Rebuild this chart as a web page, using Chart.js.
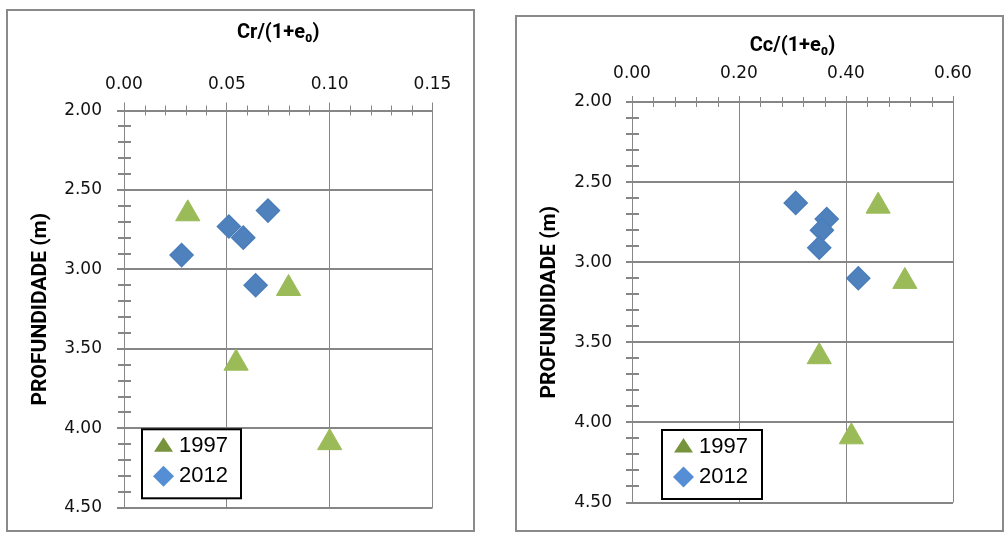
<!DOCTYPE html>
<html>
<head>
<meta charset="utf-8">
<script src="https://cdn.jsdelivr.net/npm/chart.js@4.4.1/dist/chart.umd.min.js"></script>
<style>
  html, body { margin: 0; padding: 0; background: #fff; }
  body { width: 1005px; height: 533px; position: relative; overflow: hidden; }
  .frame { position: absolute; box-sizing: border-box; border: 2px solid #8a8a8a; }
  canvas { position: absolute; top: 0; }
</style>
</head>
<body>
<div class="frame" style="left:6px;top:9px;width:469px;height:523px;"></div>
<div class="frame" style="left:515px;top:15px;width:489px;height:517px;"></div>
<canvas id="crChart" width="490" height="533" style="left:0px"></canvas>
<canvas id="ccChart" width="505" height="533" style="left:500px"></canvas>
<script>
// Get the data for the charts
var seriesNames = ['1997', '2012'];
var depth1997 = [2.65, 3.12, 3.59, 4.09];
var cr1997 = [0.031, 0.080, 0.0545, 0.100];
var cc1997 = [0.46, 0.51, 0.35, 0.41];
var depth2012 = [2.63, 2.73, 2.80, 2.91, 3.10];
var cr2012 = [0.070, 0.051, 0.058, 0.028, 0.064];
var cc2012 = [0.306, 0.364, 0.355, 0.350, 0.423];
var depthTicks = [2.00, 2.50, 3.00, 3.50, 4.00, 4.50];
var crTicks = [0.00, 0.05, 0.10, 0.15];
var ccTicks = [0.00, 0.20, 0.40, 0.60];

var gridColor = '#868686';
var tickFont = { family: "'DejaVu Sans'", size: 17 };
var titleFont = { family: "Roboto, 'DejaVu Sans'", size: 20, weight: 'bold' };

function points(xs, ys) {
    return xs.map(function (v, i) { return { x: v, y: ys[i] }; });
}

// minor ticks and the boxed legend inside the plot
var decor = {
    id: 'decor',
    afterDraw: function (chart, args, o) {
        var ctx = chart.ctx, a = chart.chartArea;
        var xs = chart.scales.x, ys = chart.scales.y;
        ctx.save();
        ctx.strokeStyle = gridColor;

        ctx.lineWidth = 1;
        var nx = Math.round((xs.max - xs.min) / o.xMinor);
        for (var i = 1; i < nx; i++) {
            if (i % o.xPer === 0) continue;
            var px = Math.round(xs.getPixelForValue(xs.min + i * o.xMinor)) + 0.5;
            ctx.beginPath();
            ctx.moveTo(px, a.top - 5);
            ctx.lineTo(px, a.top + 5);
            ctx.stroke();
        }
        ctx.lineWidth = 2;
        var ny = Math.round((ys.max - ys.min) / 0.1);
        for (var j = 1; j < ny; j++) {
            if (j % 5 === 0) continue;
            var py = Math.round(ys.getPixelForValue(ys.min + j * 0.1));
            ctx.beginPath();
            ctx.moveTo(a.left - 6, py);
            ctx.lineTo(a.left + 7, py);
            ctx.stroke();
        }

        // legend box
        var bx = a.left + o.legendDx, bw = o.legendW, bh = 69;
        var by = a.bottom - o.legendDy - bh;
        ctx.fillStyle = '#fff';
        ctx.fillRect(bx, by, bw, bh);
        ctx.strokeStyle = '#000';
        ctx.lineWidth = 2;
        ctx.strokeRect(bx, by, bw, bh);

        var mx = bx + 21.5, tx = bx + 37;
        var r1 = by + 15.5, r2 = by + 47;
        // triangle
        ctx.fillStyle = '#77933C';
        ctx.beginPath();
        ctx.moveTo(mx, r1 - 7.5);
        ctx.lineTo(mx + 9.5, r1 + 7);
        ctx.lineTo(mx - 9.5, r1 + 7);
        ctx.closePath();
        ctx.fill();
        // diamond
        ctx.fillStyle = '#558ED5';
        ctx.beginPath();
        ctx.moveTo(mx, r2 - 10.5);
        ctx.lineTo(mx + 10.5, r2);
        ctx.lineTo(mx, r2 + 10.5);
        ctx.lineTo(mx - 10.5, r2);
        ctx.closePath();
        ctx.fill();

        ctx.fillStyle = '#000';
        ctx.font = "22px 'Liberation Sans'";
        ctx.textBaseline = 'middle';
        ctx.textAlign = 'left';
        ctx.fillText(chart.data.datasets[0].label, tx, r1 + 1);
        ctx.fillText(chart.data.datasets[1].label, tx, r2);
        ctx.restore();
    }
};

function makeChart(id, xData1997, xData2012, xTicks, xTitle, cfg) {
    var ctx = document.getElementById(id).getContext('2d');
    return new Chart(ctx, {
        type: 'scatter',
        data: {
            datasets: [{
                label: seriesNames[0],
                data: points(xData1997, depth1997),
                pointStyle: 'triangle',
                pointRadius: 14,
                pointBackgroundColor: '#9BBB59',
                pointBorderColor: '#9BBB59',
                pointBorderWidth: 1
            }, {
                label: seriesNames[1],
                data: points(xData2012, depth2012),
                pointStyle: 'rectRot',
                pointRadius: 11.5,
                pointBackgroundColor: '#4F81BD',
                pointBorderColor: '#4A7EBB',
                pointBorderWidth: 1.5
            }]
        },
        plugins: [decor],
        options: {
            responsive: false,
            animation: false,
            layout: { padding: { left: 0, top: 0, right: cfg.padRight, bottom: cfg.padBottom } },
            plugins: {
                legend: { display: false },
                tooltip: { enabled: false },
                decor: {
                    xMinor: cfg.xMinor, xPer: 5,
                    legendDx: cfg.legendDx, legendDy: cfg.legendDy, legendW: cfg.legendW
                }
            },
            scales: {
                x: {
                    type: 'linear',
                    position: 'top',
                    min: xTicks[0],
                    max: xTicks[xTicks.length - 1],
                    afterBuildTicks: function (s) { s.ticks = xTicks.map(function (v) { return { value: v }; }); },
                    afterFit: function (s) { s.height = cfg.xHeight; },
                    ticks: {
                        font: tickFont, color: '#111', padding: cfg.xTickPad,
                        maxRotation: 0, autoSkip: false,
                        callback: function (v) { return Number(v).toFixed(2); }
                    },
                    grid: { color: gridColor, lineWidth: 1, tickLength: cfg.xTickLen },
                    border: { color: gridColor, width: 2 },
                    title: {
                        display: true, text: xTitle, font: titleFont, color: '#000',
                        padding: { top: cfg.xTitlePad, bottom: 0 }
                    }
                },
                y: {
                    type: 'linear',
                    reverse: true,
                    min: depthTicks[0],
                    max: depthTicks[depthTicks.length - 1],
                    afterBuildTicks: function (s) { s.ticks = depthTicks.map(function (v) { return { value: v }; }); },
                    afterFit: function (s) { s.width = cfg.yWidth; },
                    ticks: {
                        font: tickFont, color: '#111', padding: cfg.yTickPad,
                        autoSkip: false,
                        callback: function (v) { return Number(v).toFixed(2); }
                    },
                    grid: { color: gridColor, lineWidth: 2, tickLength: cfg.yTickLen },
                    border: { color: gridColor, width: 1 },
                    title: {
                        display: true, text: 'PROFUNDIDADE (m)',
                        font: { family: "Roboto, 'DejaVu Sans'", size: 21, weight: 'bold' },
                        color: '#000',
                        padding: { top: cfg.yTitlePad, bottom: 0 }
                    }
                }
            }
        }
    });
}

makeChart('crChart', cr1997, cr2012, crTicks, 'Cr/(1+e\u2080)', {
    padRight: 57.5, padBottom: 24.5, xHeight: 110.5, yWidth: 124,
    xTickPad: 8, xTickLen: 8, yTickPad: 15, yTickLen: 7,
    xTitlePad: 21, yTitlePad: 28, xMinor: 0.01,
    legendDx: 18, legendDy: 9.5, legendW: 99
});

makeChart('ccChart', cc1997, cc2012, ccTicks, 'Cc/(1+e\u2080)', {
    padRight: 52, padBottom: 30.5, xHeight: 102, yWidth: 132,
    xTickPad: 12, xTickLen: 6, yTickPad: 14, yTickLen: 6,
    xTitlePad: 34, yTitlePad: 37, xMinor: 0.04,
    legendDx: 30, legendDy: 3.5, legendW: 100
});
</script>
</body>
</html>
